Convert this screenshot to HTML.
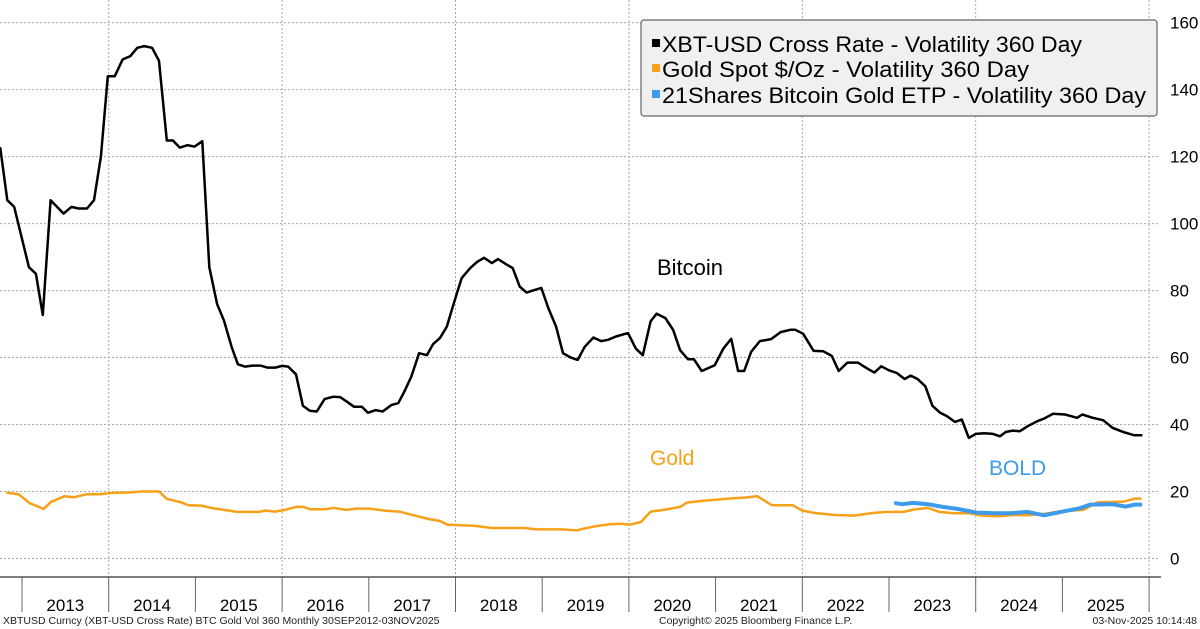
<!DOCTYPE html>
<html><head><meta charset="utf-8"><style>
html,body{margin:0;padding:0;background:#fff;}
svg{display:block;font-family:"Liberation Sans",sans-serif;}
</style></head><body>
<svg id="chart" width="1200" height="629" viewBox="0 0 1200 629" xmlns="http://www.w3.org/2000/svg">
<g id="grid"></g>
<g id="axes"></g>
<g id="series"></g>
<text x="657" y="275" font-size="22" fill="#000">Bitcoin</text>
<text x="650" y="465" font-size="21" fill="#f7a11a">Gold</text>
<text x="989" y="475" font-size="21" fill="#3d9be9">BOLD</text>
<g>
<rect x="641" y="20" width="516" height="96" rx="3" fill="#f0f0f0" stroke="#666" stroke-width="1.2"/>
<rect x="652" y="39" width="8" height="8" fill="#000"/>
<text x="662" y="52" font-size="22" textLength="420" lengthAdjust="spacingAndGlyphs">XBT-USD Cross Rate - Volatility 360 Day</text>
<rect x="652" y="64" width="8" height="8" fill="#f7a11a"/>
<text x="662" y="77" font-size="22" textLength="367" lengthAdjust="spacingAndGlyphs">Gold Spot $/Oz - Volatility 360 Day</text>
<rect x="652" y="90" width="8" height="8" fill="#3d9be9"/>
<text x="662" y="103" font-size="22" textLength="484" lengthAdjust="spacingAndGlyphs">21Shares Bitcoin Gold ETP - Volatility 360 Day</text>
</g>
<text x="3" y="624" font-size="10.5" fill="#222">XBTUSD Curncy (XBT-USD Cross Rate) BTC Gold Vol 360 Monthly 30SEP2012-03NOV2025</text>
<text x="659" y="624" font-size="10.5" fill="#222">Copyright© 2025 Bloomberg Finance L.P.</text>
<text x="1197" y="624" font-size="10.5" fill="#222" text-anchor="end">03-Nov-2025 10:14:48</text>
</svg>
<script>
const yTicks=[0,20,40,60,80,100,120,140,160];
const years=[2013,2014,2015,2016,2017,2018,2019,2020,2021,2022,2023,2024,2025];
const btcDates=[2012.75,2012.83,2012.91,2013.08,2013.16,2013.24,2013.33,2013.48,2013.57,2013.65,2013.75,2013.83,2013.91,2013.99,2014.07,2014.16,2014.25,2014.33,2014.41,2014.50,2014.58,2014.67,2014.74,2014.82,2014.91,2014.99,2015.08,2015.16,2015.25,2015.33,2015.42,2015.49,2015.57,2015.66,2015.75,2015.83,2015.92,2016.00,2016.07,2016.16,2016.24,2016.32,2016.40,2016.49,2016.59,2016.67,2016.75,2016.83,2016.92,2016.99,2017.08,2017.16,2017.26,2017.34,2017.41,2017.49,2017.58,2017.67,2017.74,2017.82,2017.90,2017.98,2018.07,2018.17,2018.25,2018.33,2018.42,2018.49,2018.58,2018.66,2018.74,2018.82,2018.89,2018.99,2019.07,2019.16,2019.24,2019.33,2019.41,2019.49,2019.59,2019.68,2019.76,2019.85,2019.99,2020.08,2020.16,2020.25,2020.32,2020.42,2020.51,2020.59,2020.68,2020.75,2020.84,2020.92,2020.99,2021.09,2021.18,2021.26,2021.33,2021.41,2021.51,2021.64,2021.75,2021.86,2021.92,2022.01,2022.13,2022.24,2022.34,2022.42,2022.52,2022.64,2022.75,2022.83,2022.91,2023.00,2023.09,2023.18,2023.25,2023.33,2023.42,2023.50,2023.59,2023.67,2023.76,2023.84,2023.92,2024.00,2024.10,2024.20,2024.28,2024.35,2024.43,2024.51,2024.60,2024.71,2024.79,2024.89,2025.03,2025.17,2025.23,2025.35,2025.47,2025.58,2025.70,2025.83,2025.91];
const btcValues=[122.5,107,105,87,85,72.7,107,103,105,104.5,104.5,107,120,144,144,149,150,152.5,153,152.5,148.6,124.8,124.8,122.7,123.4,123,124.6,87,76,71,63,58,57.3,57.6,57.6,57,57,57.5,57.3,55,45.6,44.1,43.9,47.6,48.3,48.2,46.8,45.3,45.3,43.5,44.3,43.9,45.8,46.4,49.8,54.3,61.3,60.7,64,65.8,69.2,76.2,83.7,86.7,88.6,89.8,88.2,89.4,87.9,86.7,81.2,79.4,80,80.8,74.8,69.2,61.3,60,59.3,63.2,66,64.9,65.3,66.3,67.3,62.7,60.7,70.8,73.1,71.8,68.3,62.2,59.5,59.5,56,56.9,57.7,62.7,65.6,56,56,61.7,64.9,65.5,67.6,68.3,68.3,67.1,62,61.9,60.5,56,58.5,58.5,56.7,55.5,57.4,56.2,55.4,53.6,54.6,53.6,51.4,45.6,43.5,42.5,40.8,41.5,36,37.2,37.4,37.2,36.5,37.8,38.2,38,39.5,41,41.8,43.2,43,42,43,42,41.3,39,37.8,36.8,36.8];
const goldDates=[2012.83,2012.96,2013.09,2013.25,2013.33,2013.49,2013.60,2013.75,2013.90,2014.03,2014.24,2014.37,2014.58,2014.67,2014.83,2014.92,2015.07,2015.18,2015.48,2015.73,2015.81,2015.92,2016.05,2016.16,2016.24,2016.33,2016.50,2016.59,2016.74,2016.86,2017.01,2017.18,2017.35,2017.53,2017.69,2017.82,2017.91,2018.21,2018.42,2018.80,2018.93,2019.23,2019.40,2019.44,2019.61,2019.78,2019.91,2020.01,2020.14,2020.25,2020.42,2020.59,2020.67,2020.84,2021.02,2021.14,2021.35,2021.48,2021.65,2021.89,2022.00,2022.17,2022.38,2022.60,2022.81,2022.98,2023.17,2023.28,2023.45,2023.58,2023.75,2023.92,2024.08,2024.26,2024.43,2024.60,2024.81,2024.98,2025.24,2025.41,2025.71,2025.84,2025.90];
const goldValues=[19.6,19.2,16.5,14.8,16.8,18.6,18.3,19.2,19.2,19.6,19.7,20,20,17.8,16.8,15.9,15.8,15.1,13.9,13.9,14.3,14,14.6,15.4,15.4,14.7,14.7,15.1,14.5,14.9,14.9,14.3,14,12.8,11.8,11.2,10.1,9.8,9.1,9.1,8.7,8.7,8.4,8.7,9.6,10.2,10.4,10.1,10.9,14,14.6,15.4,16.7,17.2,17.6,17.9,18.2,18.6,15.9,15.9,14.3,13.5,13,12.8,13.6,13.9,13.9,14.6,15.1,13.9,13.5,13.5,12.8,12.6,13,12.9,13.4,14.1,14.5,16.8,17,17.9,17.9];
const boldDates=[2023.08,2023.15,2023.28,2023.45,2023.62,2023.79,2024.01,2024.22,2024.39,2024.60,2024.79,2024.98,2025.20,2025.32,2025.58,2025.73,2025.84,2025.90];
const boldValues=[16.5,16.2,16.6,16.2,15.4,14.8,13.7,13.5,13.5,13.9,12.9,13.9,15,16.1,16.2,15.5,16.1,16.1];

const NS='http://www.w3.org/2000/svg';
function xOf(t){return 22+(t-2013)*86.7;}
function yOf(v){return 558.5-v*3.349;}
function mk(tag,attrs,parent){const e=document.createElementNS(NS,tag);for(const k in attrs)e.setAttribute(k,attrs[k]);parent.appendChild(e);return e;}
const grid=document.getElementById('grid'),axes=document.getElementById('axes'),series=document.getElementById('series');
yTicks.forEach(v=>{
  const l=mk('line',{x1:0,x2:1160,y1:yOf(v),y2:yOf(v),stroke:'#a8a8a8','stroke-width':1,'stroke-dasharray':'2,2'},grid);
  
  
  const t=mk('text',{x:1170,y:yOf(v)+6,'font-size':17,fill:'#000'},axes);
  t.textContent=v;
  
  
});
years.concat([2026]).forEach(y=>{
  if(y%2===0){
    const g=mk('line',{x1:xOf(y),x2:xOf(y),y1:0,y2:577,stroke:'#a8a8a8','stroke-width':1,'stroke-dasharray':'2,2'},grid);
    
    
  }
  const s=mk('line',{x1:xOf(y),x2:xOf(y),y1:577,y2:612,stroke:'#666','stroke-width':1},axes);
  
  
});
years.forEach(y=>{
  const t=mk('text',{x:xOf(y+0.5),y:611,'font-size':17,'text-anchor':'middle',fill:'#000'},axes);
  t.textContent=y;
  
  
});
const ax=mk('line',{x1:0,x2:1161,y1:577,y2:577,stroke:'#555','stroke-width':1.5},axes);


function line(dates,vals,color,w){
  const d=dates.map((t,i)=>(i?'L':'M')+xOf(t).toFixed(1)+' '+yOf(vals[i]).toFixed(1)).join(' ');
  return mk('path',{d:d,fill:'none',stroke:color,'stroke-width':w,'stroke-linejoin':'round','stroke-linecap':'round'},series);
}
const g1=line(goldDates,goldValues,'#f7a11a',2.5);


const b1=line(boldDates,boldValues,'#3d9be9',4);


const c1=line(btcDates,btcValues,'#000',2.5);


</script>
</body></html>
